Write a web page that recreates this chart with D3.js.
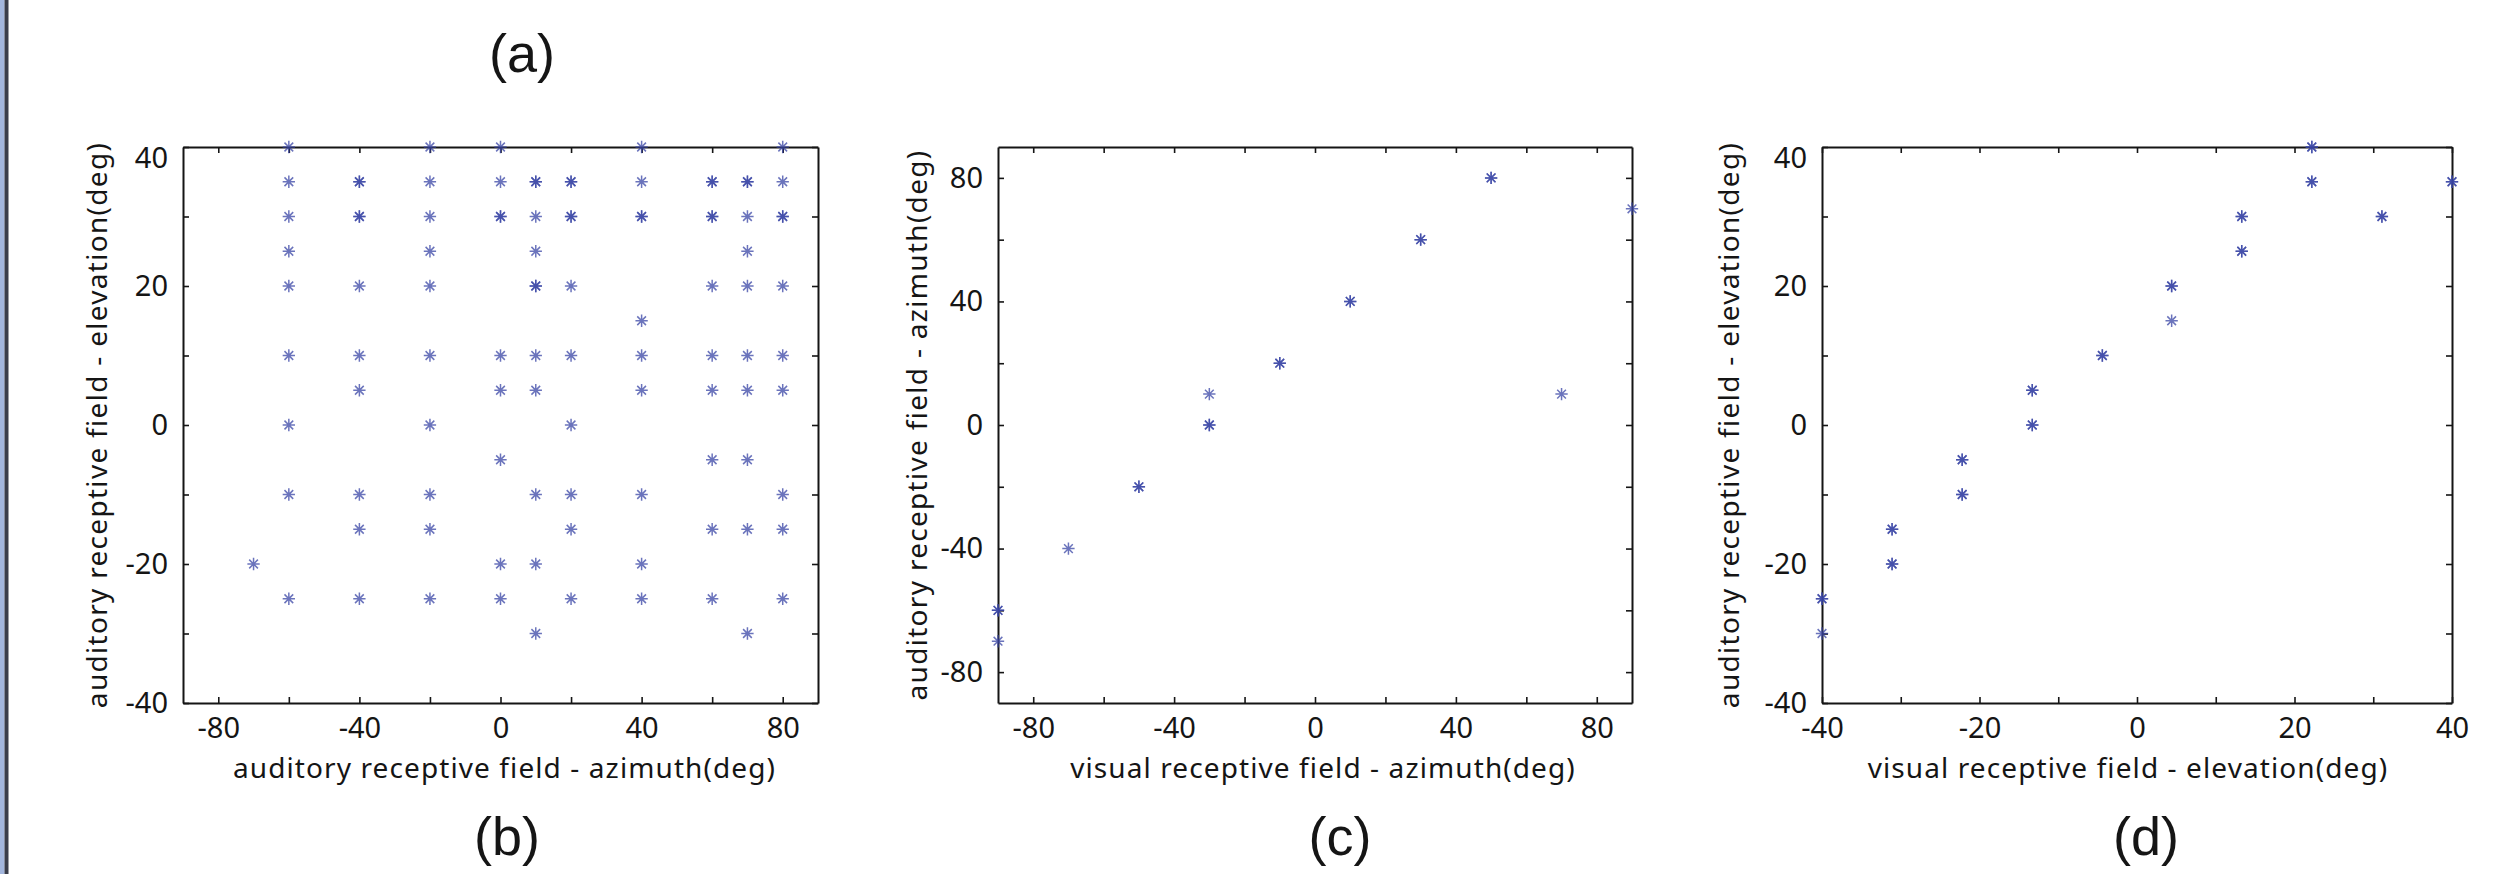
<!DOCTYPE html>
<html>
<head>
<meta charset="utf-8">
<script src="https://cdn.jsdelivr.net/npm/d3@7"></script>
<style>
  body { margin: 0; padding: 0; background: #fff; }
</style>
</head>
<body>
<script>
// three receptive-field scatter panels, MATLAB-style asterisk markers

// panel (b): auditory azimuth columns and the elevations found in each column
// (a value listed twice = two neurons on the same spot, drawn darker)
const bAzimuth = [-70, -60, -40, -20, 0, 10, 20, 40, 60, 70, 80];
const bElevation = [
  [-20],
  [40, 35, 30, 25, 20, 10, 0, -10, -25],
  [35, 35, 30, 30, 20, 10, 5, -10, -15, -25],
  [40, 35, 30, 25, 20, 10, 0, -10, -15, -25],
  [40, 35, 30, 30, 10, 5, -5, -20, -25],
  [35, 35, 30, 25, 20, 20, 10, 5, -10, -20, -30],
  [35, 35, 30, 30, 20, 10, 0, -10, -15, -25],
  [40, 35, 30, 30, 15, 10, 5, -10, -20, -25],
  [35, 35, 30, 30, 20, 10, 5, -5, -15, -25],
  [35, 35, 30, 25, 20, 10, 5, -5, -15, -30],
  [40, 35, 30, 30, 20, 10, 5, -10, -15, -25]
];

// panel (c): visual azimuth vs auditory azimuth
const cVisualAz   = [50, 50, 90, 30, 30, 10, 10, -10, -10, -30, -30, -30, -50, -50, -70, -90, -90, -90, 70];
const cAuditoryAz = [80, 80, 70, 60, 60, 40, 40, 20, 20, 10, 0, 0, -20, -20, -40, -60, -60, -70, 10];

// panel (d): visual elevation vs auditory elevation
const dVisualEl   = [-40, -40, -40, -31.1, -31.1, -31.1, -31.1, -22.2, -22.2, -22.2, -22.2,
                     -13.3, -13.3, -13.3, -13.3, -4.4, -4.4, 4.4, 4.4, 4.4,
                     13.3, 13.3, 13.3, 13.3, 22.2, 22.2, 22.2, 22.2, 31.1, 31.1, 40, 40];
const dAuditoryEl = [-25, -25, -30, -15, -15, -20, -20, -5, -5, -10, -10,
                     5, 5, 0, 0, 10, 10, 20, 20, 15,
                     30, 30, 25, 25, 40, 40, 35, 35, 30, 30, 35, 35];

// ticks and labels
const ticks20 = [-80, -60, -40, -20, 0, 20, 40, 60, 80];
const labels40 = [-80, -40, 0, 40, 80];
const ticks10 = [-40, -30, -20, -10, 0, 10, 20, 30, 40];
const labels20 = [-40, -20, 0, 20, 40];

const W = 2520, H = 874;
const tickFont = "'Noto Sans', 'Open Sans', sans-serif";
const titleFont = "'Liberation Sans', Arial, sans-serif";
const ink = "#151515";
const markColor = "#3946a6";

const svg = d3.select("body")
  .append("svg")
  .attr("width", W)
  .attr("height", H)
  .style("background", "#fff");

// the thin blue / dark strip on the left edge
svg.append("rect").attr("x", 0).attr("y", 0).attr("width", 4.5).attr("height", H).attr("fill", "#a3b6dd");
svg.append("rect").attr("x", 4.5).attr("y", 0).attr("width", 4).attr("height", H).attr("fill", "#3a3d4a");

// matlab '*' marker: 4 crossing strokes
const asterisk = {
  draw(context, size) {
    const r = Math.sqrt(size);
    const k = r * Math.SQRT1_2;
    context.moveTo(-r, 0); context.lineTo(r, 0);
    context.moveTo(0, -r); context.lineTo(0, r);
    context.moveTo(-k, -k); context.lineTo(k, k);
    context.moveTo(-k, k); context.lineTo(k, -k);
  }
};
const star = d3.symbol().type(asterisk).size(38);

function drawPanel(p) {
  const x = d3.scaleLinear().domain(p.xDomain).range([p.left, p.right]);
  const y = d3.scaleLinear().domain(p.yDomain).range([p.bottom, p.top]);
  const g = svg.append("g");

  const fmt = labels => (d => labels.includes(d) ? String(d) : "");

  const axes = [
    g.append("g").attr("transform", `translate(0,${p.bottom})`)
      .call(d3.axisBottom(x).tickValues(p.xTicks).tickSizeInner(-6).tickSizeOuter(0)
        .tickPadding(14).tickFormat(fmt(p.xLabels))),
    g.append("g").attr("transform", `translate(${p.left},0)`)
      .call(d3.axisLeft(y).tickValues(p.yTicks).tickSizeInner(-6).tickSizeOuter(0)
        .tickPadding(15).tickFormat(fmt(p.yLabels))),
    g.append("g").attr("transform", `translate(0,${p.top})`)
      .call(d3.axisTop(x).tickValues(p.xTicks).tickSizeInner(-6).tickSizeOuter(0).tickFormat("")),
    g.append("g").attr("transform", `translate(${p.right},0)`)
      .call(d3.axisRight(y).tickValues(p.yTicks).tickSizeInner(-6).tickSizeOuter(0).tickFormat(""))
  ];
  axes.forEach(a => {
    a.attr("font-family", tickFont).attr("font-size", 29);
    a.select(".domain").attr("stroke", ink).attr("stroke-width", 2);
    a.selectAll(".tick line").attr("stroke", ink).attr("stroke-width", 1.6);
    a.selectAll(".tick text").attr("fill", ink);
  });
  // the top y label is pushed down inside the frame, as in the original
  axes[1].selectAll(".tick text")
    .filter(d => d === p.yDomain[1])
    .attr("dy", "0.7em");

  g.append("text")
    .attr("x", (p.left + p.right) / 2 + p.xTitleShift)
    .attr("y", 778)
    .attr("text-anchor", "middle")
    .attr("font-family", tickFont)
    .attr("font-size", 28)
    .attr("letter-spacing", 1.1)
    .attr("fill", ink)
    .text(p.xTitle);

  g.append("text")
    .attr("transform", `translate(${p.yTitleX},425) rotate(-90)`)
    .attr("text-anchor", "middle")
    .attr("font-family", tickFont)
    .attr("font-size", 28)
    .attr("letter-spacing", 1.3)
    .attr("fill", ink)
    .text(p.yTitle);

  g.append("g")
    .selectAll("path")
    .data(p.points)
    .join("path")
    .attr("transform", d => `translate(${x(d[0])},${y(d[1])})`)
    .attr("d", star)
    .attr("fill", "none")
    .attr("stroke", markColor)
    .attr("stroke-opacity", 0.75)
    .attr("stroke-width", 1.5);

  g.append("text")
    .attr("x", p.tagX)
    .attr("y", 855)
    .attr("text-anchor", "middle")
    .attr("font-family", titleFont)
    .attr("font-size", 54)
    .attr("fill", ink)
    .text(p.tag);
}

const bPoints = [];
bAzimuth.forEach((az, i) => bElevation[i].forEach(el => bPoints.push([az, el])));

drawPanel({
  left: 183, right: 818, top: 147, bottom: 703,
  xDomain: [-90, 90], yDomain: [-40, 40],
  xTicks: ticks20, xLabels: labels40, yTicks: ticks10, yLabels: labels20,
  xTitle: "auditory receptive field - azimuth(deg)", xTitleShift: 4,
  yTitle: "auditory receptive field - elevation(deg)", yTitleX: 107,
  points: bPoints, tag: "(b)", tagX: 507
});

drawPanel({
  left: 998, right: 1632, top: 147, bottom: 703,
  xDomain: [-90, 90], yDomain: [-90, 90],
  xTicks: ticks20, xLabels: labels40, yTicks: ticks20, yLabels: labels40,
  xTitle: "visual receptive field - azimuth(deg)", xTitleShift: 8,
  yTitle: "auditory receptive field - azimuth(deg)", yTitleX: 927,
  points: cVisualAz.map((v, i) => [v, cAuditoryAz[i]]), tag: "(c)", tagX: 1340
});

drawPanel({
  left: 1822, right: 2452, top: 147, bottom: 703,
  xDomain: [-40, 40], yDomain: [-40, 40],
  xTicks: ticks10, xLabels: labels20, yTicks: ticks10, yLabels: labels20,
  xTitle: "visual receptive field - elevation(deg)", xTitleShift: -9,
  yTitle: "auditory receptive field - elevation(deg)", yTitleX: 1739,
  points: dVisualEl.map((v, i) => [v, dAuditoryEl[i]]), tag: "(d)", tagX: 2146
});

// panel (a) label sits above the first plot
svg.append("text")
  .attr("x", 522)
  .attr("y", 72)
  .attr("text-anchor", "middle")
  .attr("font-family", titleFont)
  .attr("font-size", 54)
  .attr("fill", ink)
  .text("(a)");
</script>
</body>
</html>
